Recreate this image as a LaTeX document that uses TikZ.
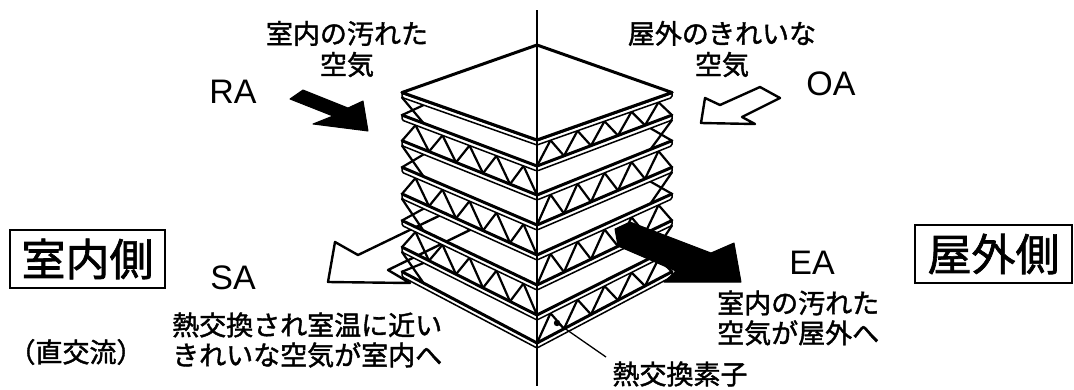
\documentclass[tikz,border=0pt]{standalone}
\usepackage{fontspec}
\setmainfont{Liberation Sans}
\newfontfamily\jpfont[FakeBold=1.5]{Noto Sans CJK JP}
\begin{document}
\begin{tikzpicture}[x=1pt,y=-1pt,
  corr/.style={line width=2.2pt, line cap=round, line join=round},
  platebody/.style={fill=white, draw=black, line width=1.5pt, rounded corners=1.5pt},
  plateedge/.style={line width=3pt, line join=round, line cap=round},
  jp/.style={font=\jpfont\fontsize{27}{31}\selectfont, inner sep=0pt},
  lat/.style={font=\fontsize{34}{34}\selectfont, inner sep=0pt},
  sidebox/.style={draw, line width=1.2pt, font=\jpfont\fontsize{44}{44}\selectfont, minimum height=58pt, inner sep=0pt},
  darrow/.style={fill=black, draw=black, line width=1pt, line join=round},
  warrow/.style={fill=white, draw=black, line width=2.4pt, line join=round},
  axisline/.style={line width=1.3pt},
  leader/.style={line width=1.3pt}
]
\useasboundingbox (0,0) rectangle (1074,389);

% front-corner heights of the eight plates (perspective grows downwards)
\def\Flist{{140,166,195,225,255,285,315,343}}

% supply air leaving the left face (drawn first, the stack covers its tail)
\filldraw[warrow] (335,242) -- (358,255) -- (445,213) -- (470,230) -- (388,270) -- (410,283) -- (328,282) -- cycle;

% corrugated sheets between the plates; open channels alternate faces
\foreach \k in {0,...,6}{
  \pgfmathsetmacro\tA{\Flist[\k]+5}
  \pgfmathsetmacro\hA{47.5+3.4*\k}
  \pgfmathsetmacro\tB{\Flist[\k+1]}
  \pgfmathsetmacro\hB{47.5+3.4*(\k+1)}
  \pgfmathsetmacro\sd{1-2*mod(\k,2)}
  \foreach \j in {0,...,9}{
    \pgfmathsetmacro\ua{\j/10}
    \pgfmathsetmacro\ub{(\j+1)/10}
    \pgfmathsetmacro\wj{mod(\j,2)}
    \pgfmathsetmacro\ya{(1-\wj)*(\tB-\hB*\ua)+\wj*(\tA-\hA*\ua)}
    \pgfmathsetmacro\yb{(1-\wj)*(\tA-\hA*\ub)+\wj*(\tB-\hB*\ub)}
    \draw[corr] ({537+\sd*135*\ua},\ya) -- ({537+\sd*135*\ub},\yb);
  }
  % channel end seen at the outer corner of the closed face
  \draw[corr] ({537-\sd*135*0.84},{\tA-\hA*0.84}) -- ({537-\sd*135},{\tB-\hB});
  \draw[corr] ({537-\sd*135*0.84},{\tB-\hB*0.84}) -- ({537-\sd*135},{\tA-\hA});
}

% flat plates, each with a visible thickness
\foreach \i in {0,...,7}{
  \pgfmathsetmacro\pF{\Flist[\i]}
  \pgfmathsetmacro\ph{47.5+3.4*\i}
  \filldraw[platebody] (402,{\pF-\ph}) -- (537,\pF) -- (672,{\pF-\ph}) -- (672,{\pF-\ph+5}) -- (537,{\pF+5}) -- (402,{\pF-\ph+5}) -- cycle;
  \draw[plateedge] (402,{\pF-\ph}) -- (537,\pF) -- (672,{\pF-\ph});
}
% top face of the element
\filldraw[fill=white, plateedge] (402,92.5) -- (537,45) -- (672,92.5) -- (537,140) -- cycle;

% centre axis
\coordinate (axisTop) at (537,10);
\coordinate (axisBot) at (537,386);
\draw[axisline] (axisTop) -- (axisBot);

% return air entering, outdoor air entering, exhaust air leaving
\filldraw[darrow] (290,99) -- (303,90) -- (348,108) -- (363,101) -- (368,131) -- (313,124) -- (333,116) -- cycle;
\filldraw[warrow] (780,98) -- (760,87) -- (720,105) -- (705,98) -- (701,123) -- (755,124) -- (742,117) -- cycle;
\filldraw[darrow] (615,229) -- (630,222) -- (711,253) -- (734,243) -- (741,282) -- (664,282) -- (676,271) -- (618,246) -- cycle;

% labels
\node[jp, align=center] (tDirty) at (347,49) {室内の汚れた\\空気};
\node[jp, align=center] (tClean) at (722,49) {屋外のきれいな\\空気};
\node[lat] (tRA) at (233,92) {RA};
\node[lat] (tOA) at (831,84) {OA};
\node[lat] (tSA) at (233,278) {SA};
\node[lat] (tEA) at (812,263) {EA};
\node[sidebox, minimum width=155pt] (inBox) at (87.5,259) {室内側};
\node[sidebox, minimum width=157pt] (outBox) at (993.5,254) {屋外側};
\node[jp] (tCross) at (76,352) {（直交流）};
\node[jp, anchor=west, align=left, font=\jpfont\fontsize{27}{30}\selectfont] (tSAnote) at (172,340) {熱交換され室温に近い\\きれいな空気が室内へ};
\node[jp, anchor=west, align=left, font=\jpfont\fontsize{27}{30}\selectfont] (tEAnote) at (717,318) {室内の汚れた\\空気が屋外へ};
\node[jp] (tElem) at (680,374) {熱交換素子};

% leader to the element
\coordinate (elemDot) at (557,323);
\coordinate (elemEnd) at (606,357);
\fill (elemDot) circle (3.2pt);
\draw[leader] (elemDot) -- (elemEnd);
\end{tikzpicture}
\end{document}
